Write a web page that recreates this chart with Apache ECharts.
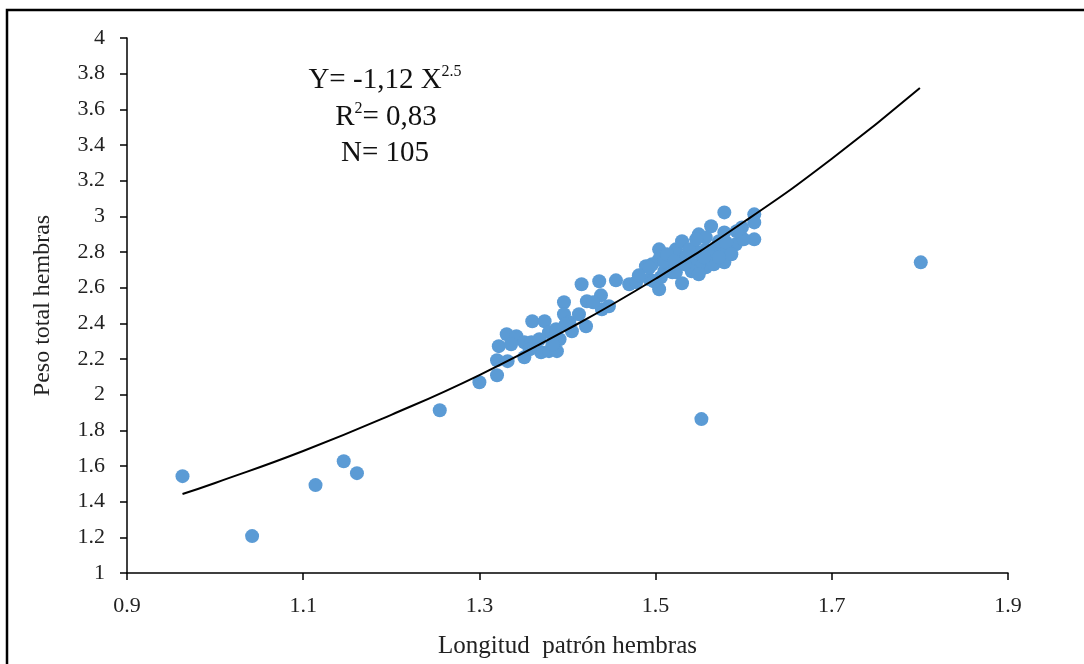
<!DOCTYPE html>
<html><head><meta charset="utf-8">
<script src="https://cdn.jsdelivr.net/npm/echarts@6/dist/echarts.min.js"></script>
<style>html,body{margin:0;padding:0;background:#fff}#c{width:1084px;height:664px}</style>
</head><body><div id="c"></div>
<script>
const longitud = [0.963,1.042,1.114,1.146,1.161,1.255,1.300,1.320,1.320,1.332,1.322,1.331,1.342,1.351,1.359,1.351,1.360,1.374,1.370,1.379,1.388,1.379,1.387,1.396,1.396,1.402,1.405,1.413,1.421,1.422,1.438,1.439,1.447,1.416,1.436,1.455,1.470,1.478,1.489,1.496,1.504,1.504,1.515,1.519,1.493,1.504,1.523,1.530,1.578,1.563,1.578,1.612,1.612,1.598,1.612,1.591,1.549,1.530,1.546,1.557,1.569,1.575,1.523,1.535,1.578,1.557,1.549,1.519,1.523,1.538,1.541,1.572,1.580,1.557,1.552,1.801,1.498,1.510,1.538,1.563,1.510,1.546,1.368,1.336,1.391,1.398,1.481,1.513,1.549,1.566,1.586,1.600,1.493,1.533,1.429,1.383,1.357,1.592,1.555,1.506,1.521,1.572];
const peso = [1.543,1.207,1.493,1.627,1.560,1.913,2.070,2.109,2.193,2.188,2.272,2.339,2.328,2.294,2.294,2.210,2.412,2.412,2.238,2.244,2.244,2.350,2.367,2.518,2.451,2.406,2.356,2.451,2.384,2.524,2.557,2.479,2.496,2.619,2.636,2.641,2.619,2.630,2.720,2.731,2.815,2.759,2.703,2.686,2.647,2.591,2.815,2.625,3.022,2.944,2.910,3.011,2.966,2.938,2.871,2.843,2.899,2.860,2.804,2.815,2.826,2.804,2.787,2.776,2.742,2.714,2.731,2.720,2.686,2.748,2.692,2.860,2.854,2.882,1.863,2.742,2.636,2.692,2.815,2.770,2.748,2.871,2.311,2.283,2.311,2.395,2.669,2.787,2.675,2.731,2.787,2.871,2.714,2.731,2.518,2.283,2.255,2.916,2.770,2.658,2.748,2.770];
const trendX = [0.963,1.0,1.1,1.2,1.3,1.4,1.5,1.6,1.7,1.8];
const trendY = [1.443,1.505,1.684,1.887,2.110,2.366,2.650,2.968,3.323,3.720];
const xTicks = [0.9,1.1,1.3,1.5,1.7,1.9];
const yTicks = [1,1.2,1.4,1.6,1.8,2,2.2,2.4,2.6,2.8,3,3.2,3.4,3.6,3.8,4];

const pts = longitud.map((x,i)=>[x,peso[i]]);
const trend = trendX.map((x,i)=>[x,trendY[i]]);
const serif = "'Liberation Serif','DejaVu Serif',serif";
const chart = echarts.init(document.getElementById('c'));
const eq = {fontFamily:serif,fontSize:29,fill:'#111'};
const sup = {fontFamily:serif,fontSize:16,fill:'#111',padding:[0,0,16,0]};
chart.setOption({
  animation:false,
  grid:{left:127,right:76,top:38,bottom:90},
  xAxis:{type:'value',min:xTicks[0],max:xTicks[xTicks.length-1],interval:0.2,
    name:'Longitud  patrón hembras',nameLocation:'middle',nameGap:61,
    nameTextStyle:{fontFamily:serif,fontSize:25,color:'#222'},
    axisLine:{lineStyle:{color:'#000',width:1.5}},
    axisTick:{show:true,length:7,lineStyle:{color:'#000',width:1.5}},
    axisLabel:{fontFamily:serif,fontSize:22,color:'#222',margin:22,formatter:v=>String(Math.round(v*10)/10)},
    splitLine:{show:false}},
  yAxis:{type:'value',min:yTicks[0],max:yTicks[yTicks.length-1],interval:0.2,
    name:'Peso total hembras',nameLocation:'middle',nameGap:72,
    nameTextStyle:{fontFamily:serif,fontSize:24,color:'#222'},
    axisLine:{show:true,lineStyle:{color:'#000',width:1.5}},
    axisTick:{show:true,length:7,lineStyle:{color:'#000',width:1.5}},
    axisLabel:{fontFamily:serif,fontSize:22,color:'#222',margin:22,formatter:v=>String(Math.round(v*10)/10)},
    splitLine:{show:false}},
  series:[
    {type:'scatter',data:pts,symbolSize:14,itemStyle:{color:'#5B9BD5',opacity:1},z:2},
    {type:'line',data:trend,smooth:true,showSymbol:false,lineStyle:{color:'#000',width:2},z:3}
  ],
  graphic:[
    {type:'rect',shape:{x:7,y:10,width:1200,height:800},style:{fill:'none',stroke:'#000',lineWidth:2.5},silent:true},
    {type:'text',x:385,y:80,style:{text:'{a|Y= -1,12 X}{s|2.5}',align:'center',verticalAlign:'middle',rich:{a:eq,s:sup}}},
    {type:'text',x:386,y:117,style:{text:'{a|R}{s|2}{a|= 0,83}',align:'center',verticalAlign:'middle',rich:{a:eq,s:sup}}},
    {type:'text',x:385,y:153,style:{text:'N= 105',align:'center',verticalAlign:'middle',fontFamily:serif,fontSize:29,fill:'#111'}}
  ]
});
</script></body></html>
